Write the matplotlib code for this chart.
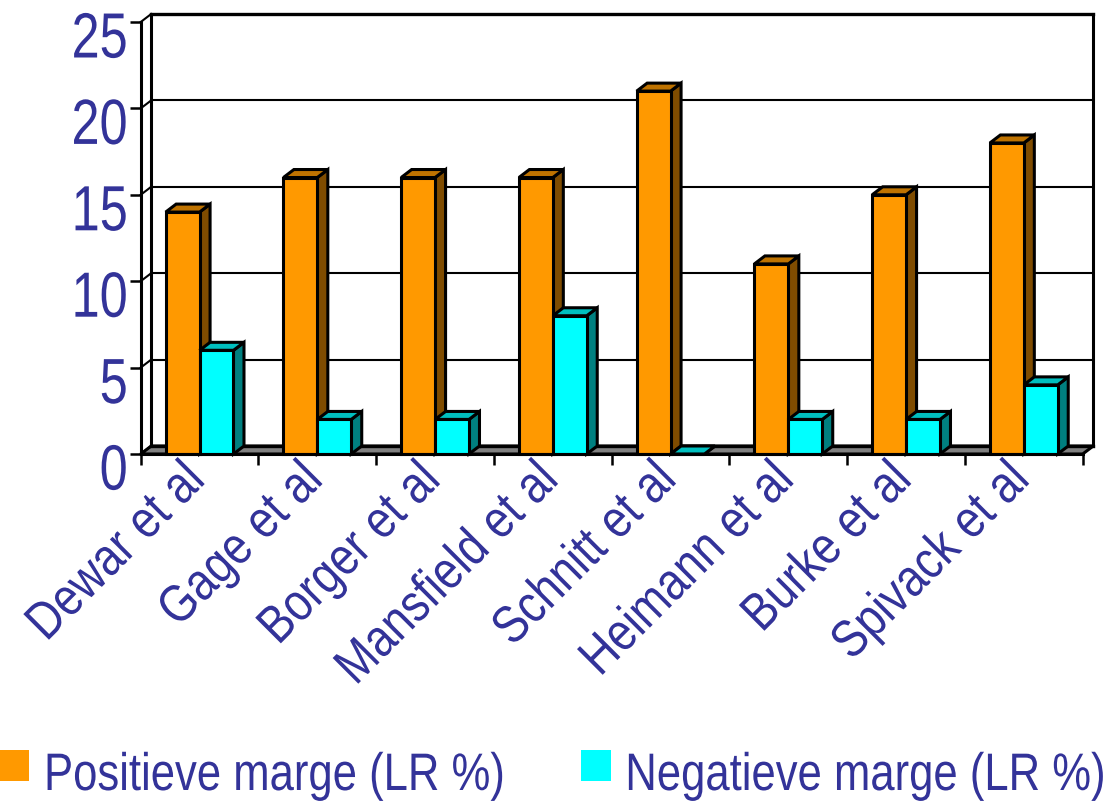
import matplotlib
matplotlib.use('Agg')
import matplotlib.pyplot as plt
from matplotlib.patches import Polygon, Rectangle
from matplotlib.patheffects import AbstractPathEffect
from matplotlib.transforms import Affine2D, ScaledTranslation

# data
authors = ['Dewar et al', 'Gage et al', 'Borger et al', 'Mansfield et al',
           'Schnitt et al', 'Heimann et al', 'Burke et al', 'Spivack et al']
positive = [14, 16, 16, 16, 21, 11, 15, 18]
negative = [6, 2, 2, 8, 0, 2, 2, 4]
y_ticks = [0, 5, 10, 15, 20, 25]
series_names = ['Positieve marge (LR %)', 'Negatieve marge (LR %)']

W, H = 1108, 802
TEXT = '#333399'
plt.rcParams['font.family'] = 'Liberation Sans'


# the reference uses a squeezed Arial, no narrow font here so squeeze the glyphs
class Squeeze(AbstractPathEffect):
    def __init__(self, sx, align=0):
        super().__init__()
        self.sx = sx
        self.align = align

    def draw_path(self, renderer, gc, tpath, affine, rgbFace=None):
        w = tpath.get_extents().x1
        t = Affine2D().scale(self.sx, 1).translate((1 - self.sx) * w * self.align, 0)
        renderer.draw_path(gc, tpath, t + affine, rgbFace)


fig = plt.figure(figsize=(W / 100, H / 100), dpi=100)
# front plane of the fake 3d box, in pixels
left, right, top, bottom = 140.7, 1082.7, 22, 454
ax = fig.add_axes([left / W, 1 - bottom / H, (right - left) / W, (bottom - top) / H])
ax.set_xlim(0, len(authors))
ax.set_ylim(0, 25)

# depth of the box in data units
dx = 10.5 / ((right - left) / len(authors))
dy = 8 / ((bottom - top) / 25)
n = len(authors)

# floor
ax.add_patch(Polygon([(0, 0), (n, 0), (n + dx, dy), (dx, dy)], closed=True,
                     facecolor='#808080', edgecolor='black', lw=2.2, clip_on=False, zorder=1))

# back wall and grid
for v in y_ticks:
    lw = 2.4 if v in (0, 25) else 1.5
    ax.plot([dx, n + dx], [v + dy, v + dy], color='black', lw=lw, clip_on=False, zorder=1)
    ax.plot([0, dx], [v, v + dy], color='black', lw=1.5, clip_on=False, zorder=1)
ax.plot([dx, dx], [dy, 25 + dy], color='black', lw=2.2, clip_on=False, zorder=1)
ax.plot([n + dx, n + dx], [dy, 25 + dy], color='black', lw=2.2, clip_on=False, zorder=1)


def bar3d(x0, width, value, front, top_col, side_col, z):
    x1 = x0 + width
    ax.add_patch(Polygon([(x1, 0), (x1 + dx, dy), (x1 + dx, value + dy), (x1, value)], closed=True,
                         facecolor=side_col, edgecolor='black', lw=2.2, clip_on=False, zorder=z))
    ax.add_patch(Polygon([(x0, value), (x1, value), (x1 + dx, value + dy), (x0 + dx, value + dy)], closed=True,
                         facecolor=top_col, edgecolor='black', lw=2.2, clip_on=False, zorder=z))
    ax.add_patch(Rectangle((x0, 0), width, value, facecolor=front, edgecolor='black',
                           lw=2.2, clip_on=False, zorder=z))


bar_w = 0.288
for i in range(n):
    center = i + 0.5
    bar3d(center - bar_w, bar_w, positive[i], '#FF9900', '#BF7300', '#7F4C00', 3 + i)
    bar3d(center, bar_w, negative[i], '#00FFFF', '#00BFBF', '#008080', 3.5 + i)

# axes
for s in ['top', 'right']:
    ax.spines[s].set_visible(False)
for s in ['left', 'bottom']:
    ax.spines[s].set_linewidth(2.2)
    ax.spines[s].set_zorder(20)
ax.patch.set_visible(False)

ax.set_yticks(y_ticks)
ax.set_xticks(range(n + 1))
ax.set_xticklabels([])
ax.set_xticks([i + 0.5 for i in range(n)], authors, minor=True)
ax.tick_params(axis='x', which='major', length=8, width=1.8, direction='out')
ax.tick_params(axis='x', which='minor', length=0, pad=0, labelsize=38, labelcolor=TEXT)
ax.tick_params(axis='y', length=8, width=1.8, direction='out', pad=1, labelsize=46, labelcolor=TEXT)
xshift = ScaledTranslation(-20 / 100, 0, fig.dpi_scale_trans)
for lab in ax.get_xticklabels(minor=True):
    lab.set_rotation(45)
    lab.set_ha('right')
    lab.set_va('top')
    lab.set_rotation_mode('anchor')
    lab.set_transform(lab.get_transform() + xshift)
    lab.set_path_effects([Squeeze(0.85, align=1)])
yshift = ScaledTranslation(0, -12 / 100, fig.dpi_scale_trans)
for lab in ax.get_yticklabels():
    lab.set_transform(lab.get_transform() + yshift)
    lab.set_path_effects([Squeeze(0.79, align=1)])

# legend
fig.add_artist(Rectangle((0, 1 - 781 / H), 29 / W, 31 / H, transform=fig.transFigure, facecolor='#FF9900', edgecolor='none'))
fig.add_artist(Rectangle((581 / W, 1 - 781 / H), 30 / W, 31 / H, transform=fig.transFigure, facecolor='#00FFFF', edgecolor='none'))
fig.text(44 / W, 1 - 790 / H, series_names[0], color=TEXT, fontsize=38, va='baseline', ha='left',
         path_effects=[Squeeze(0.827)])
fig.text(1106 / W, 1 - 790 / H, series_names[1], color=TEXT, fontsize=38, va='baseline', ha='right',
         path_effects=[Squeeze(0.827, align=1)])

fig.savefig('out.png', dpi=100)
